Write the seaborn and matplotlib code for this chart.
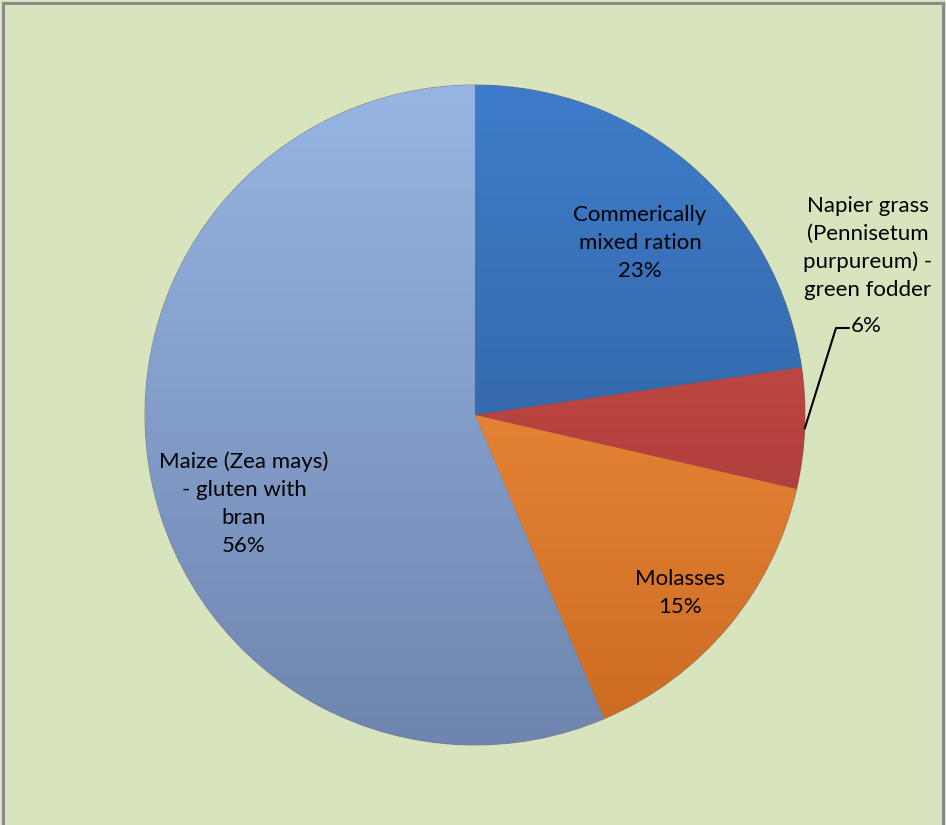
import numpy as np
import matplotlib
matplotlib.use('Agg')
import matplotlib.pyplot as plt
import matplotlib.colors as mcolors
from matplotlib.patches import Rectangle
import seaborn as sns

# data
labels = ['Commerically\nmixed ration', 'Napier grass\n(Pennisetum\npurpureum) -\ngreen fodder',
          'Molasses', 'Maize (Zea mays)\n- gluten with\nbran']
values = [22.7, 5.9, 15.0, 56.4]

# top / bottom gradient colours per slice
top_colors = ['#3e7cca', '#d4544f', '#fb9a48', '#97b5e3']
bottom_colors = ['#2c5890', '#9c3330', '#cc6a22', '#6f85af']

sns.set_style('white')
plt.rcParams['font.family'] = ['Lato', 'DejaVu Sans']

W, H = 946, 825
fig = plt.figure(figsize=(W / 100, H / 100), dpi=100)
fig.patch.set_facecolor('#d8e4bd')
ax = fig.add_axes([0, 0, 1, 1])
ax.set_facecolor('#d8e4bd')

cx, cy, R = 475, H - 415, 330

wedges, _ = ax.pie(values, startangle=90, counterclock=False, center=(cx, cy),
                   radius=R, colors=bottom_colors, frame=True,
                   wedgeprops=dict(linewidth=0.8, edgecolor='#55555588'))
ax.set_xlim(0, W)
ax.set_ylim(0, H)
ax.set_aspect('equal')
ax.axis('off')

# vertical gradient inside every slice
grad = np.linspace(0, 1, 256)[:, None]
for w, c1, c2 in zip(wedges, top_colors, bottom_colors):
    cmap = mcolors.LinearSegmentedColormap.from_list('g', [c1, c2])
    im = ax.imshow(grad, cmap=cmap, aspect='auto',
                   extent=(cx - R, cx + R, cy - R, cy + R), zorder=w.get_zorder())
    im.set_clip_path(w)

pct = ['%d%%' % round(v / sum(values) * 100) for v in values]

# labels (text positions in axes pixels)
fs = 16
ls = 1.5
ax.text(640, H - 243, labels[0] + '\n' + pct[0], ha='center', va='center', fontsize=fs,
        linespacing=ls, color='black')
ax.text(868, H - 248, labels[1], ha='center', va='center', fontsize=fs,
        linespacing=ls, color='black')
ax.text(851, H - 326, pct[1], ha='left', va='center', fontsize=fs, color='black')
ax.text(680, H - 593, labels[2] + '\n' + pct[2], ha='center', va='center', fontsize=fs,
        linespacing=ls, color='black')
ax.text(244, H - 504, labels[3] + '\n' + pct[3], ha='center', va='center', fontsize=fs,
        linespacing=ls, color='black')

# leader line for the small slice
w = wedges[1]
mid = np.deg2rad((w.theta1 + w.theta2) / 2)
sx, sy = cx + R * np.cos(mid), cy + R * np.sin(mid)
ax.plot([sx, 836, 849], [sy, H - 328, H - 328], color='black', lw=1.5, zorder=5)

# outer frame
fig.add_artist(Rectangle((3 / W, -0.01), (W - 6) / W, 1 - 3 / H + 0.01,
                         transform=fig.transFigure, fill=False,
                         edgecolor='#8a8a8a', linewidth=2.2))

fig.savefig('out.png', dpi=100, facecolor=fig.get_facecolor())
